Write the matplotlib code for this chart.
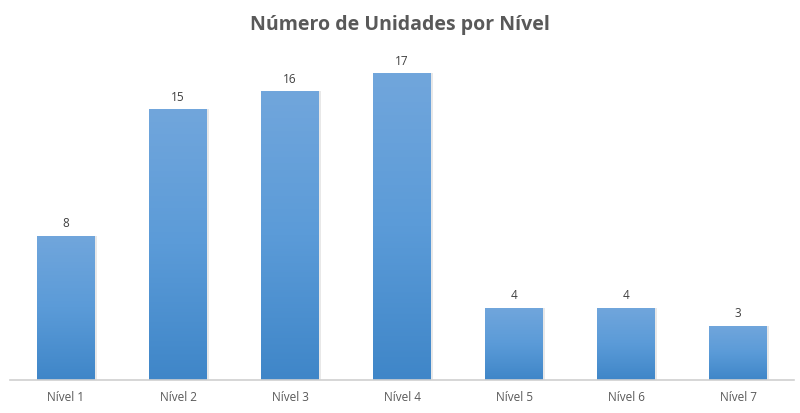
import matplotlib.pyplot as plt
import numpy as np
from matplotlib.colors import LinearSegmentedColormap

# --- data ---
categories = ['Nível 1', 'Nível 2', 'Nível 3', 'Nível 4', 'Nível 5', 'Nível 6', 'Nível 7']
values = [8, 15, 16, 17, 4, 4, 3]

plt.rcParams['font.family'] = ['Open Sans', 'DejaVu Sans']

fig = plt.figure(figsize=(8, 4.13), dpi=100)
ax = fig.add_axes([10 / 800, 1 - 380 / 413, 784 / 800, (380 - 55) / 413])

cmap = LinearSegmentedColormap.from_list('bar', ['#3f86c8', '#5b9bd8', '#71a6dc'])
grad = np.linspace(0, 1, 256).reshape(-1, 1)

bars = ax.bar(range(len(categories)), values, width=0.51, color='none', edgecolor='none')
for bar, v in zip(bars, values):
    x0 = bar.get_x()
    w = bar.get_width()
    # soft shadow
    ax.bar(x0 + w / 2 + 0.012, v, width=w + 0.02, color='#d9d9d9', alpha=0.6, zorder=1)
    im = ax.imshow(grad, cmap=cmap, aspect='auto', extent=[x0, x0 + w, 0, v],
                   origin='lower', zorder=2)
    im.set_clip_path(bar)
    ax.text(x0 + w / 2, v + 0.3, str(v), ha='center', va='bottom',
            fontsize=8.5, color='#404040')

ax.set_xlim(-0.5, len(categories) - 0.5)
ax.set_ylim(0, 18)
ax.set_xticks(range(len(categories)))
ax.set_xticklabels(categories, fontsize=8.5, color='#595959')
ax.tick_params(axis='x', length=0, pad=8)
ax.set_yticks([])
for s in ['top', 'right', 'left']:
    ax.spines[s].set_visible(False)
ax.spines['bottom'].set_color('#d0d0d0')
ax.spines['bottom'].set_linewidth(1.2)

fig.text(0.5, 1 - 25 / 413, 'Número de Unidades por Nível', ha='center', va='center',
         fontsize=14, fontweight='bold', color='#595959')

fig.savefig('out.png', dpi=100)
